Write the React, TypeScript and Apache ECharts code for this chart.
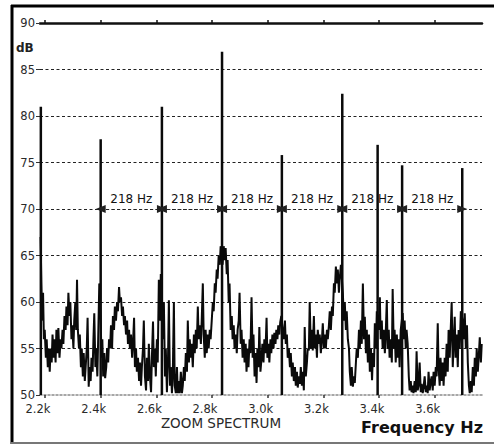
import React, { useEffect, useRef } from "react";
import * as echarts from "echarts";

// Frequency (Hz) tick positions and their labels
const xTickValues = [2200, 2400, 2600, 2800, 3000, 3200, 3400, 3600];
const xTickLabels = ["2.2k", "2.4k", "2.6k", "2.8k", "3.0k", "3.2k", "3.4k", "3.6k"];

// Harmonic spikes: [frequency Hz, peak dB]
const spikes: [number, number][] = [
  [2185, 81], [2400, 77.5], [2620, 81], [2836, 86.9], [3051, 75.8],
  [3268, 82.4], [3395, 76.9], [3483, 74.7], [3699, 74.4],
];

// spikes marked with the 218 Hz spacing arrows
const markedSpikes = [2400, 2620, 2836, 3051, 3268, 3483, 3699];
const spacingLabel = "218 Hz";
const spacingLevel = 70;

// Noise floor of the zoom spectrum: [frequency Hz, dB]
const noise: [number, number][] = [
  [2184, 67], [2187, 62], [2190, 58], [2193, 61], [2196, 56], [2199, 57], [2203, 54], [2206, 56], [2210, 53], [2213, 55],
  [2217, 52.5], [2220, 55], [2224, 53.5], [2227, 56.5], [2231, 54], [2234, 56], [2238, 53.5], [2241, 57], [2245, 54.5], [2248, 57.2],
  [2252, 54], [2256, 56], [2259, 55], [2263, 57], [2266, 55.5], [2270, 58.5], [2274, 57], [2277, 59.5], [2281, 57.5], [2284, 61],
  [2288, 58.5], [2291, 60], [2295, 56], [2298, 57.5], [2302, 55], [2305, 58], [2309, 60], [2312, 57], [2315, 62.4], [2318, 57],
  [2322, 55], [2325, 56.5], [2329, 53], [2332, 55], [2336, 52], [2339, 54.5], [2343, 51.5], [2346, 53], [2350, 55], [2353, 58.3],
  [2357, 50.9], [2360, 53], [2364, 51.5], [2367, 54], [2371, 52.5], [2374, 56], [2377, 58.8], [2381, 53], [2384, 55], [2388, 52],
  [2391, 56], [2395, 62],
  [2400, 58], [2403, 54], [2406, 56], [2409, 52], [2413, 54.5], [2416, 51.8], [2420, 53], [2423, 55], [2427, 53.5], [2430, 56],
  [2434, 55], [2437, 57.5], [2441, 55], [2444, 58.5], [2448, 57], [2451, 59.5], [2455, 58], [2459, 60], [2462, 59], [2466, 61.6],
  [2469, 60], [2473, 60.5], [2477, 58.5], [2480, 59.5], [2484, 57.5], [2487, 58.5], [2491, 56.5], [2495, 58], [2498, 55.5], [2502, 57],
  [2505, 55], [2509, 56.5], [2513, 54], [2516, 55.5], [2520, 58.3], [2523, 53], [2527, 55], [2530, 52.5], [2534, 54], [2538, 51.5],
  [2541, 53.5], [2545, 51], [2548, 53], [2552, 55], [2555, 58], [2559, 52], [2563, 50.5], [2566, 54], [2570, 51.5], [2573, 55.5],
  [2577, 52], [2581, 50.3], [2584, 54], [2588, 57.9], [2591, 53], [2595, 55], [2598, 52], [2602, 56], [2605, 53.5], [2609, 62.4],
  [2613, 58], [2616, 63],
  [2620, 58], [2624, 56], [2627, 60], [2631, 52], [2634, 55], [2638, 50.3], [2642, 54], [2645, 60.2], [2649, 51], [2652, 53],
  [2656, 50.2], [2659, 52], [2663, 60], [2666, 51], [2670, 50.2], [2674, 53], [2677, 50.2], [2681, 51.5], [2684, 50.2], [2688, 52.5],
  [2692, 50.2], [2695, 51], [2699, 53], [2702, 51.5], [2706, 54.5], [2710, 52.5], [2713, 58], [2717, 53.5], [2720, 56], [2724, 54],
  [2727, 55.5], [2731, 53], [2735, 56.5], [2738, 54.5], [2742, 57], [2745, 55], [2749, 59.5], [2752, 56], [2756, 57.5], [2760, 55.5],
  [2763, 58], [2767, 62], [2770, 56.5], [2774, 54], [2777, 57], [2781, 54.5], [2785, 56.5], [2788, 55], [2792, 57], [2795, 56],
  [2799, 58], [2803, 60], [2806, 59], [2810, 62], [2813, 61], [2817, 63.5], [2820, 62.5], [2824, 65], [2828, 64], [2831, 66],
  [2838, 64], [2842, 66], [2846, 64.5], [2849, 65.8], [2853, 63], [2856, 64.5], [2860, 60], [2863, 62], [2867, 57], [2871, 58.5],
  [2874, 56], [2878, 57.5], [2881, 55], [2885, 56.5], [2889, 54.5], [2892, 57], [2896, 58], [2899, 61], [2903, 55.5], [2906, 57],
  [2910, 54], [2914, 56], [2917, 53.5], [2921, 55.5], [2924, 52.5], [2928, 55], [2931, 53], [2935, 56], [2938, 54.5], [2942, 60.5],
  [2946, 54], [2949, 56.5], [2953, 52], [2956, 54.5], [2960, 51.3], [2963, 55], [2967, 53], [2970, 57.3], [2974, 52.5], [2978, 54],
  [2981, 55.5], [2985, 53.5], [2988, 56], [2992, 54.5], [2996, 58.3], [2999, 54], [3003, 55.5], [3006, 53.5], [3010, 56], [3013, 54.5],
  [3017, 56.5], [3021, 55], [3024, 56.7], [3028, 55.5], [3031, 57], [3035, 56], [3038, 57.5], [3042, 56.5], [3045, 57.8], [3049, 58.5],
  [3054, 57], [3058, 56], [3062, 58], [3065, 55.5], [3069, 56.5], [3072, 54], [3076, 55], [3080, 53], [3083, 54.5], [3087, 52],
  [3090, 53.5], [3094, 51.5], [3098, 53], [3101, 51], [3105, 52.5], [3108, 50.8], [3112, 52], [3116, 51.2], [3119, 53], [3123, 51],
  [3126, 52.5], [3130, 50.5], [3133, 57.3], [3137, 52], [3141, 53.5], [3144, 55], [3148, 54.8], [3151, 60], [3155, 55], [3159, 57],
  [3162, 54.8], [3166, 58.5], [3169, 55], [3173, 56.5], [3177, 54], [3180, 57], [3184, 55.5], [3187, 56.5], [3191, 54.5], [3195, 56],
  [3198, 57.7], [3202, 55], [3205, 56.5], [3209, 55], [3213, 57], [3216, 56], [3220, 57.5], [3223, 59], [3227, 57], [3231, 59.5],
  [3234, 58.5], [3238, 62], [3241, 61], [3245, 63.8], [3249, 62], [3252, 63.5], [3256, 61], [3259, 62.5], [3263, 64],
  [3270, 61], [3274, 58], [3277, 60], [3281, 57], [3284, 59], [3288, 56], [3292, 55], [3295, 52.5], [3299, 51], [3302, 53],
  [3306, 50.9], [3310, 52], [3313, 51.3], [3317, 53.5], [3320, 55], [3324, 54], [3328, 57], [3331, 55], [3335, 58], [3338, 55.5],
  [3342, 62], [3346, 56], [3349, 58.4], [3353, 54.5], [3356, 57], [3360, 53.5], [3364, 56.5], [3367, 52.5], [3371, 55], [3375, 51.6],
  [3378, 54.5], [3382, 53], [3385, 57.7], [3389, 55], [3392, 59],
  [3399, 57], [3403, 60.5], [3406, 56], [3410, 58], [3413, 55], [3417, 57], [3421, 54.5], [3424, 56.5], [3428, 60.2], [3431, 55],
  [3435, 57], [3438, 54], [3442, 56], [3446, 53.5], [3449, 61.4], [3453, 55], [3456, 57], [3460, 53.5], [3464, 56.5], [3467, 54],
  [3471, 56], [3474, 53], [3478, 57],
  [3485, 58.8], [3489, 56], [3492, 58], [3496, 55], [3499, 57], [3503, 55.5], [3507, 52], [3510, 50.5], [3514, 51.5], [3517, 50.3],
  [3521, 51], [3524, 50.2], [3528, 51.5], [3532, 50.3], [3535, 54.7], [3539, 50.5], [3542, 51], [3546, 53.5], [3550, 50.3], [3553, 51.2],
  [3557, 50.2], [3560, 50.8], [3564, 52], [3568, 50.3], [3571, 51], [3575, 50.2], [3578, 52.5], [3582, 50.5], [3586, 51.5], [3589, 52],
  [3593, 50.5], [3596, 52.5], [3600, 51], [3604, 53], [3607, 52], [3611, 57.7], [3614, 53], [3618, 51], [3621, 54], [3625, 51.5],
  [3629, 53.5], [3632, 51], [3636, 54], [3639, 52], [3643, 55.5], [3647, 52.5], [3650, 57], [3654, 54], [3657, 56.5], [3661, 60],
  [3665, 53], [3668, 55.5], [3672, 58.4], [3675, 54], [3679, 56.5], [3683, 53], [3686, 57], [3690, 55], [3694, 59],
  [3701, 58], [3705, 56], [3708, 58.8], [3712, 55], [3716, 57.5], [3719, 53.5], [3723, 51], [3726, 50.2], [3730, 51.5], [3733, 50.3],
  [3737, 53], [3741, 51], [3744, 54], [3748, 52], [3751, 55], [3755, 52.5], [3759, 54.5], [3762, 56.2], [3766, 53.5], [3769, 55.5],
];

const FONT = "'DejaVu Sans', Verdana, sans-serif";
const X_MIN = 2182;
const X_MAX = 3770;

export default function App() {
  const ref = useRef<HTMLDivElement>(null);

  useEffect(() => {
    document.body.style.margin = "0";
    if (!ref.current) return;
    const chart = echarts.init(ref.current, undefined, { renderer: "svg" });

    const labelFor = (v: number) => {
      const i = xTickValues.indexOf(v);
      return i >= 0 ? xTickLabels[i] : "";
    };

    const spacingSegments = markedSpikes.slice(0, -1).map((f, i) => [
      { coord: [f, spacingLevel] },
      { coord: [markedSpikes[i + 1], spacingLevel] },
    ]);

    const option: any = {
      animation: false,
      backgroundColor: "#ffffff",
      grid: { left: 40, right: 12, top: 23, bottom: 50, containLabel: false },
      xAxis: [
        {
          type: "value",
          min: X_MIN,
          max: X_MAX,
          position: "bottom",
          axisLine: { show: true, lineStyle: { color: "#8a8a8a", width: 1.5, type: [2, 2] } },
          axisTick: { show: true, customValues: xTickValues, length: 3, lineStyle: { color: "#333", width: 1.5 } },
          axisLabel: {
            show: true,
            customValues: xTickValues,
            formatter: (v: number) => labelFor(v),
            color: "#2a2a2a",
            fontFamily: FONT,
            fontSize: 11.5,
            margin: 8,
            padding: [0, 14, 0, 0],
          },
          splitLine: { show: false },
        },
        {
          type: "value",
          min: X_MIN,
          max: X_MAX,
          position: "top",
          axisLine: { show: true, onZero: false, lineStyle: { color: "#111", width: 2.5 } },
          axisTick: { show: true, customValues: xTickValues, length: 3, lineStyle: { color: "#111", width: 1.5 } },
          axisLabel: { show: false },
          splitLine: { show: false },
        },
      ],
      yAxis: {
        type: "value",
        min: 50,
        max: 90,
        interval: 5,
        axisLine: { show: false },
        axisTick: { show: true, length: 4, lineStyle: { color: "#333", width: 1 } },
        axisLabel: { color: "#2a2a2a", fontFamily: FONT, fontSize: 11.5, margin: 5, lineHeight: 11 },
        splitLine: {
          show: true,
          showMinLine: false,
          showMaxLine: false,
          lineStyle: { color: "#222", width: 1, type: [3, 2.5] },
        },
      },
      series: [
        {
          type: "line",
          data: noise,
          showSymbol: false,
          symbol: "none",
          clip: true,
          lineStyle: { color: "#0a0a0a", width: 2 },
          z: 3,
        },
        {
          type: "bar",
          data: spikes,
          barWidth: 2.5,
          clip: true,
          itemStyle: { color: "#0a0a0a" },
          z: 4,
          markLine: {
            silent: true,
            symbol: ["triangle", "triangle"],
            symbolSize: [8, 10],
            lineStyle: { color: "#222", width: 1, type: [3, 2.5] },
            label: {
              show: true,
              position: "middle",
              formatter: spacingLabel,
              color: "#111",
              fontFamily: FONT,
              fontSize: 12,
              distance: 4,
            },
            emphasis: { disabled: true },
            data: spacingSegments,
          },
        },
      ],
      graphic: [
        { type: "line", shape: { x1: 11, y1: 6, x2: 494, y2: 6 }, style: { stroke: "#000", lineWidth: 3 } },
        { type: "line", shape: { x1: 12, y1: 5, x2: 12, y2: 444 }, style: { stroke: "#000", lineWidth: 3 } },
        { type: "line", shape: { x1: 11, y1: 443, x2: 494, y2: 443 }, style: { stroke: "#777", lineWidth: 2 } },
        {
          type: "text",
          left: 16,
          top: 42,
          style: { text: "dB", font: `bold 12px ${FONT}`, fill: "#222" },
        },
        {
          type: "text",
          x: 221,
          y: 423,
          style: { text: "ZOOM SPECTRUM", font: `13.5px ${FONT}`, fill: "#2a2a2a", textAlign: "center", textVerticalAlign: "middle" },
        },
        {
          type: "text",
          x: 483,
          y: 427,
          style: { text: "Frequency Hz", font: `bold 16px ${FONT}`, fill: "#111", textAlign: "right", textVerticalAlign: "middle" },
        },
      ],
    };

    chart.setOption(option);
    return () => chart.dispose();
  }, []);

  return <div ref={ref} style={{ width: 494, height: 445 }} />;
}
